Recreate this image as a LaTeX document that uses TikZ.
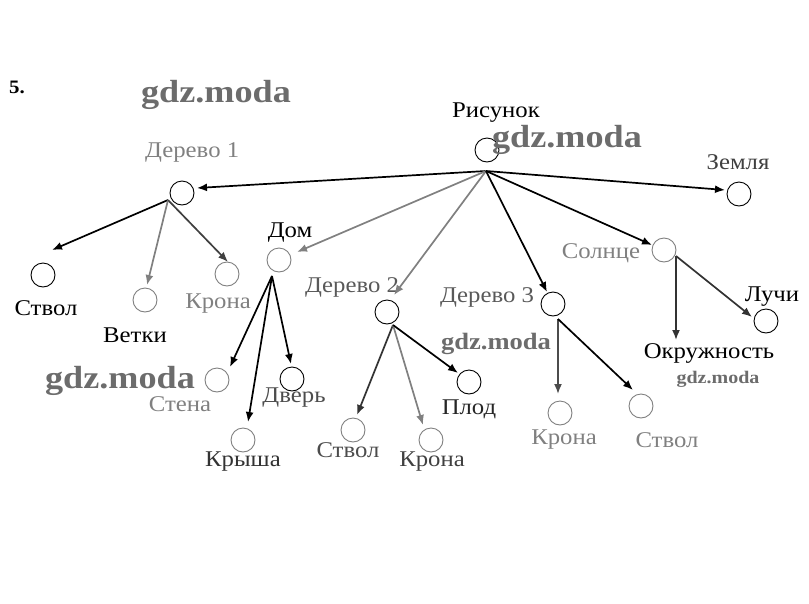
\documentclass[tikz,border=0pt]{standalone}
\usepackage{fontspec}
\setmainfont[FakeStretch=1.1]{Liberation Serif}
\newfontfamily\wmfont[FakeStretch=1.13]{Liberation Serif}
\usetikzlibrary{arrows.meta}
\tikzset{
  cnode/.style={circle, draw=#1, line width=0.9pt, minimum size=24pt, inner sep=0pt},
  cnode/.default=black,
  lbl/.style={font={\fontsize{22.5}{25}\selectfont}, inner sep=0pt, text=#1},
  lbl/.default=black,
  arr/.style={line width=1.7pt, draw=#1, -{Latex[length=10pt,width=8pt]}},
  arr/.default=black,
  wm/.style={font={\wmfont\bfseries\fontsize{#1}{#1}\selectfont}, text=gray!85!black, inner sep=0pt},
}
\begin{document}
\begin{tikzpicture}[x=1pt,y=-1pt]
\useasboundingbox (0,0) rectangle (809,603);
\node[font={\bfseries\fontsize{19}{19}\selectfont}, inner sep=0pt] (num) at (17,87) {5.};
% watermarks
\node[wm=32] (w1) at (216,95) {gdz.moda};
\node[wm=32] (w3) at (120,381) {gdz.moda};
\node[wm=23.5] (w4) at (496,344) {gdz.moda};
\node[wm=17.7] (w5) at (718,379) {gdz.moda};
% root
\node[cnode] (root) at (487,150) {};
\node[lbl] (lroot) at (496,113) {Рисунок};
\node[wm=32] (w2) at (567,140) {gdz.moda};
\coordinate (hub) at (486,171);
% level 1
\node[cnode] (d1) at (182,193) {};
\node[lbl=gray, anchor=west] (ld1) at (145,152) {Дерево 1};
\node[cnode] (zem) at (739,194) {};
\node[lbl=black!75] (lzem) at (738,162) {Земля};
\node[cnode=gray] (dom) at (279,260) {};
\node[lbl] (ldom) at (290,233) {Дом};
\node[cnode] (d2) at (387,312) {};
\node[lbl=gray!70!black] (ld2) at (352,287) {Дерево 2};
\node[cnode] (d3) at (553,304) {};
\node[lbl=gray!70!black] (ld3) at (487,297) {Дерево 3};
\node[cnode=gray] (sun) at (664,250) {};
\node[lbl=gray] (lsun) at (601,253) {Солнце};
% Дерево 1 children
\coordinate (h1) at (168,200);
\node[cnode] (st1) at (43,275) {};
\node[lbl] (lst1) at (46,308) {Ствол};
\node[cnode=gray] (vet) at (145,300) {};
\node[lbl] (lvet) at (135,335) {Ветки};
\node[cnode=gray] (kr1) at (227,274) {};
\node[lbl=gray] (lkr1) at (218,304) {Крона};
% Дом children
\coordinate (h2) at (272,276);
\node[cnode=gray] (sten) at (217,380) {};
\node[lbl=gray] (lsten) at (180,404) {Стена};
\node[cnode] (dv) at (292,379) {};
\node[lbl=gray!60!black] (ldv) at (294,398) {Дверь};
\node[cnode=gray] (kry) at (243,440) {};
\node[lbl=black!80] (lkry) at (243,462) {Крыша};
% Дерево 2 children
\coordinate (h3) at (393,325);
\node[cnode=gray] (st2) at (353,430) {};
\node[lbl=gray!60!black] (lst2) at (348,450) {Ствол};
\node[cnode=gray] (kr2) at (431,440) {};
\node[lbl=gray!50!black] (lkr2) at (432,462) {Крона};
\node[cnode] (plod) at (469,382) {};
\node[lbl=black!85] (lplod) at (469,409) {Плод};
% Дерево 3 children
\coordinate (h4) at (558,319);
\node[cnode=gray] (kr3) at (560,413) {};
\node[lbl=gray] (lkr3) at (564,440) {Крона};
\node[cnode=gray] (st3) at (641,406) {};
\node[lbl=gray] (lst3) at (667,440) {Ствол};
% Солнце children
\coordinate (h5) at (676,256);
\node[lbl] (lokr) at (709,353) {Окружность};
\node[cnode] (luch) at (766,321) {};
\node[lbl] (lluch) at (772,297) {Лучи};
% arrow tips
\coordinate (t-d1) at (197,188);
\coordinate (t-zem) at (725,190);
\coordinate (t-dom) at (297,252);
\coordinate (t-d2) at (394,295);
\coordinate (t-d3) at (547,292);
\coordinate (t-sun) at (652,245);
\coordinate (t-st1) at (52,250);
\coordinate (t-vet) at (147,285);
\coordinate (t-kr1) at (228,262);
\coordinate (t-sten) at (230,367);
\coordinate (t-kry) at (248,422);
\coordinate (t-dv) at (291,364);
\coordinate (t-st2) at (357,415);
\coordinate (t-kr2) at (423,425);
\coordinate (t-plod) at (458,373);
\coordinate (t-kr3) at (558,394);
\coordinate (t-st3) at (633,390);
\coordinate (t-okr) at (676,340);
\coordinate (t-luch) at (752,317);
% connectors
\draw[arr] (hub) -- (t-d1);
\draw[arr] (hub) -- (t-zem);
\draw[arr=gray] (hub) -- (t-dom);
\draw[arr=gray] (hub) -- (t-d2);
\draw[arr] (hub) -- (t-d3);
\draw[arr] (hub) -- (t-sun);
\draw[arr] (h1) -- (t-st1);
\draw[arr=gray] (h1) -- (t-vet);
\draw[arr=black!75] (h1) -- (t-kr1);
\draw[arr] (h2) -- (t-sten);
\draw[arr] (h2) -- (t-kry);
\draw[arr] (h2) -- (t-dv);
\draw[arr=black!80] (h3) -- (t-st2);
\draw[arr=gray] (h3) -- (t-kr2);
\draw[arr] (h3) -- (t-plod);
\draw[arr=black!70] (h4) -- (t-kr3);
\draw[arr] (h4) -- (t-st3);
\draw[arr=black!80] (h5) -- (t-okr);
\draw[arr=black!80] (h5) -- (t-luch);
\end{tikzpicture}
\end{document}
